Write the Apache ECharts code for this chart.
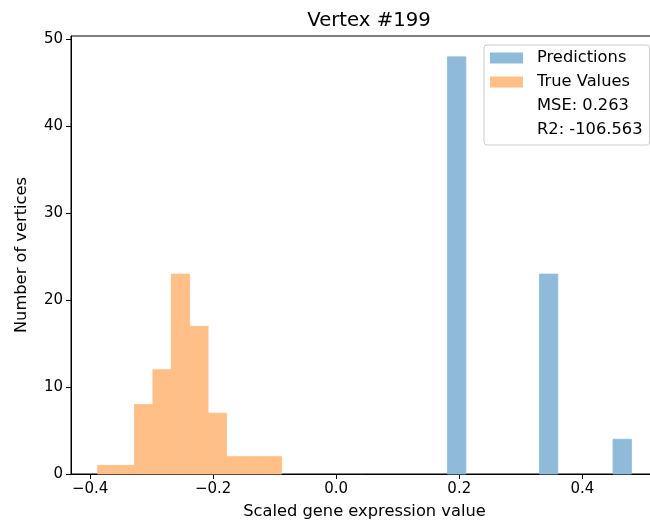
<!DOCTYPE html>
<html lang="en">
<head>
    <meta charset="UTF-8">
    <title>Vertex #199</title>
    <script src="https://cdn.jsdelivr.net/npm/echarts@6.0.0/dist/echarts.min.js"></script>
    <style>
        html, body { margin: 0; padding: 0; background: #fff; }
        #chart { width: 650px; height: 527px; }
    </style>
</head>
<body>
<div id="chart"></div>
<script>
    // histogram bin edges and counts
    var predEdges = [0.1808, 0.2107, 0.2406, 0.2705, 0.3004, 0.3303, 0.3602, 0.3901, 0.4200, 0.4499, 0.4798];
    var predCounts = [48, 0, 0, 0, 0, 23, 0, 0, 0, 4];
    var trueEdges = [-0.3877, -0.3578, -0.3279, -0.2980, -0.2681, -0.2382, -0.2083, -0.1784, -0.1485, -0.1186, -0.0887];
    var trueCounts = [1, 1, 8, 12, 23, 17, 7, 2, 2, 2];
    var xTicks = [-0.4, -0.2, 0.0, 0.2, 0.4];
    var yTicks = [0, 10, 20, 30, 40, 50];
    var statsText = ['MSE: 0.263', 'R2: -106.563'];

    var FONT = 'DejaVu Sans';

    function toBins(edges, counts) {
        var out = [];
        for (var i = 0; i < counts.length; i++) {
            out.push([edges[i], edges[i + 1], counts[i]]);
        }
        return out;
    }

    function renderBin(params, api) {
        var h = api.value(2);
        if (!h) return;
        var p0 = api.coord([api.value(0), 0]);
        var p1 = api.coord([api.value(1), h]);
        var c = api.visual('color');
        // thin stroke in the fill colour hides the seams between adjacent bins
        return {
            type: 'rect',
            shape: { x: p0[0], y: p1[1], width: p1[0] - p0[0], height: p0[1] - p1[1] },
            style: { fill: c, stroke: c, lineWidth: 0.8 }
        };
    }

    var chart = echarts.init(document.getElementById('chart'));

    var option = {
        animation: false,
        title: {
            text: 'Vertex #199',
            left: 364,
            textAlign: 'center',
            top: 6,
            textStyle: { fontFamily: FONT, fontSize: 19.7, fontWeight: 'normal', color: '#000' }
        },
        grid: {
            left: 71, top: 36, bottom: 53, width: 587,
            outerBoundsMode: 'none',
            containLabel: false,
            show: true, borderColor: '#000', borderWidth: 1, backgroundColor: 'transparent'
        },
        legend: {
            orient: 'vertical',
            left: 484,
            top: 45,
            padding: [5, 7, 7, 6],
            itemWidth: 33,
            itemHeight: 11,
            itemGap: 8,
            backgroundColor: 'rgba(255,255,255,0.8)',
            borderColor: '#ccc',
            borderWidth: 1,
            borderRadius: 3,
            selectedMode: false,
            textStyle: { fontFamily: FONT, fontSize: 16.3, color: '#000', padding: [0, 0, 0, 9] },
            data: [
                { name: 'Predictions', icon: 'rect' },
                { name: 'True Values', icon: 'rect' },
                { name: statsText[0], icon: 'rect', itemStyle: { color: 'rgba(0,0,0,0)' } },
                { name: statsText[1], icon: 'rect', itemStyle: { color: 'rgba(0,0,0,0)' } }
            ]
        },
        xAxis: {
            type: 'value',
            min: -0.4311,
            max: 0.523,
            name: 'Scaled gene expression value',
            nameLocation: 'middle',
            nameGap: 30,
            nameTextStyle: { fontFamily: FONT, fontSize: 16.3, color: '#000' },
            splitLine: { show: false },
            axisLine: { show: true, onZero: false, lineStyle: { color: '#000', width: 1 } },
            axisTick: { show: true, length: 5, lineStyle: { color: '#000' }, customValues: xTicks },
            axisLabel: {
                fontFamily: FONT, fontSize: 15, color: '#000', margin: 8,
                customValues: xTicks,
                formatter: function (v) { return v.toFixed(1).replace('-', '\u2212'); }
            }
        },
        yAxis: {
            type: 'value',
            min: 0,
            max: 50.4,
            name: 'Number of vertices',
            nameLocation: 'middle',
            nameGap: 41,
            nameTextStyle: { fontFamily: FONT, fontSize: 16.3, color: '#000' },
            splitLine: { show: false },
            axisLine: { show: true, onZero: false, lineStyle: { color: '#000', width: 1 } },
            axisTick: { show: true, length: 5, lineStyle: { color: '#000' }, customValues: yTicks },
            axisLabel: { fontFamily: FONT, fontSize: 15, color: '#000', margin: 8, customValues: yTicks }
        },
        series: [
            {
                name: 'Predictions',
                type: 'custom',
                renderItem: renderBin,
                encode: { x: [0, 1], y: 2 },
                itemStyle: { color: '#8fbbd9' },
                data: toBins(predEdges, predCounts)
            },
            {
                name: 'True Values',
                type: 'custom',
                renderItem: renderBin,
                encode: { x: [0, 1], y: 2 },
                itemStyle: { color: '#ffbf86' },
                data: toBins(trueEdges, trueCounts)
            },
            { name: statsText[0], type: 'custom', renderItem: function () {}, data: [] },
            { name: statsText[1], type: 'custom', renderItem: function () {}, data: [] }
        ]
    };

    chart.setOption(option);
</script>
</body>
</html>
